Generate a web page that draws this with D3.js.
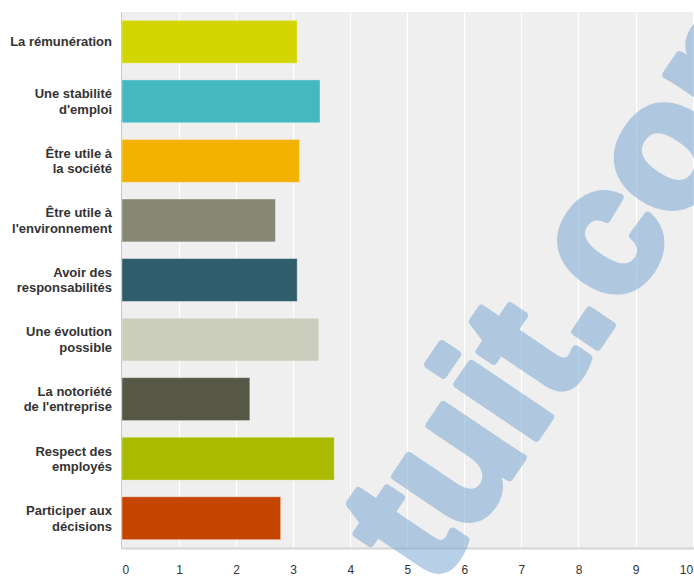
<!DOCTYPE html>
<html>
<head>
<meta charset="utf-8">
<script src="https://cdn.jsdelivr.net/npm/d3@7"></script>
<style>
  html, body { margin: 0; padding: 0; background: #ffffff; }
  svg { display: block; }
</style>
</head>
<body>
<svg id="chart" width="694" height="577"></svg>
<script>
// Category labels (each entry = the lines of one label)
const categories = [
  ["La rémunération"],
  ["Une stabilité", "d'emploi"],
  ["Être utile à", "la société"],
  ["Être utile à", "l'environnement"],
  ["Avoir des", "responsabilités"],
  ["Une évolution", "possible"],
  ["La notoriété", "de l'entreprise"],
  ["Respect des", "employés"],
  ["Participer aux", "décisions"]
];

// Average score per category
const values = [3.07, 3.47, 3.11, 2.69, 3.07, 3.45, 2.24, 3.72, 2.78];

// One colour per bar
const colors = [
  "#d2d500", "#46b8bf", "#f3b100", "#868873", "#305d6c",
  "#cccebd", "#565747", "#a9ba00", "#c54400"
];

// X-axis ticks
const xTicks = [0, 1, 2, 3, 4, 5, 6, 7, 8, 9, 10];

const svg = d3.select("#chart");
const W = 694, H = 577;
const plot = { left: 122, top: 12, right: 692.6, bottom: 548 };

const keys = categories.map((c, i) => i);

const x = d3.scaleLinear().domain([0, 10]).range([plot.left, plot.right]);
const y = d3.scaleBand().domain(keys).range([plot.top, plot.bottom])
  .paddingInner(0.28).paddingOuter(0.14);

// Plot background
svg.append("rect")
  .attr("x", plot.left).attr("y", plot.top)
  .attr("width", W - plot.left).attr("height", plot.bottom - plot.top)
  .attr("fill", "#efefef");

// Vertical grid lines
svg.append("g").selectAll("line")
  .data(xTicks.filter(d => d > 0))
  .join("line")
  .attr("x1", d => Math.round(x(d)) + 0.5)
  .attr("x2", d => Math.round(x(d)) + 0.5)
  .attr("y1", plot.top).attr("y2", plot.bottom)
  .attr("stroke", "#ffffff").attr("stroke-width", 1.2);

// Bars
svg.append("g").selectAll("rect")
  .data(values)
  .join("rect")
  .attr("x", x(0))
  .attr("y", (d, i) => y(i))
  .attr("width", d => x(d) - x(0))
  .attr("height", y.bandwidth())
  .attr("fill", (d, i) => colors[i])
  .attr("stroke", "rgba(255,255,255,0.35)")
  .attr("stroke-width", 1);

// Left axis line
svg.append("line")
  .attr("x1", plot.left - 0.5).attr("x2", plot.left - 0.5)
  .attr("y1", plot.top).attr("y2", plot.bottom + 1)
  .attr("stroke", "#c9c9c9").attr("stroke-width", 1);

// Bottom axis line
svg.append("line")
  .attr("x1", plot.left - 1).attr("x2", W)
  .attr("y1", plot.bottom + 0.5).attr("y2", plot.bottom + 0.5)
  .attr("stroke", "#d6d6d6").attr("stroke-width", 2);

// Category labels, right aligned, one or two lines
const lineH = 15.5;
const labels = svg.append("g")
  .attr("font-family", "'Liberation Sans', Arial, Helvetica, sans-serif")
  .attr("font-weight", "bold")
  .attr("font-size", 13)
  .attr("fill", "#333333")
  .attr("text-anchor", "end");

labels.selectAll("text")
  .data(categories)
  .join("text")
  .attr("x", 112)
  .attr("y", (d, i) => y(i) + y.bandwidth() / 2)
  .each(function (lines) {
    const t = d3.select(this);
    const y0 = +t.attr("y");
    lines.forEach((ln, k) => {
      const off = (k - (lines.length - 1) / 2) * lineH + 4.6;
      t.append("tspan").attr("x", 112).attr("y", y0 + off).text(ln);
    });
  });

// X-axis tick labels
const xAxis = d3.axisBottom(x).tickValues(xTicks).tickSize(0).tickPadding(0);
const gx = svg.append("g")
  .attr("transform", `translate(0,${plot.bottom})`)
  .call(xAxis);
gx.select(".domain").remove();
gx.selectAll("text")
  .attr("y", 26)
  .attr("dy", 0)
  .attr("font-family", "'Liberation Sans', Arial, Helvetica, sans-serif")
  .attr("font-size", 12)
  .attr("fill", "#333333")
  .attr("text-anchor", d => d === xTicks[0] ? "start" : (d === xTicks[xTicks.length - 1] ? "end" : "middle"));

// Watermark overlay: solid glyphs with a thick outline, faded as one layer
const wm = svg.append("g")
  .attr("transform", "translate(621,312) rotate(-56)")
  .attr("opacity", 0.5)
  .attr("font-family", "'Liberation Sans', Arial, Helvetica, sans-serif")
  .attr("font-weight", "bold")
  .attr("font-size", 180)
  .attr("fill", "rgb(113,161,209)")
  .attr("stroke", "rgb(113,161,209)")
  .attr("stroke-width", 8)
  .attr("stroke-linejoin", "round")
  .style("pointer-events", "none");
wm.append("text").attr("x", -4).attr("y", 0).attr("text-anchor", "end").text("tuit.");
wm.append("text").attr("x", 0).attr("y", 0).attr("text-anchor", "start").text("com");
</script>
</body>
</html>
